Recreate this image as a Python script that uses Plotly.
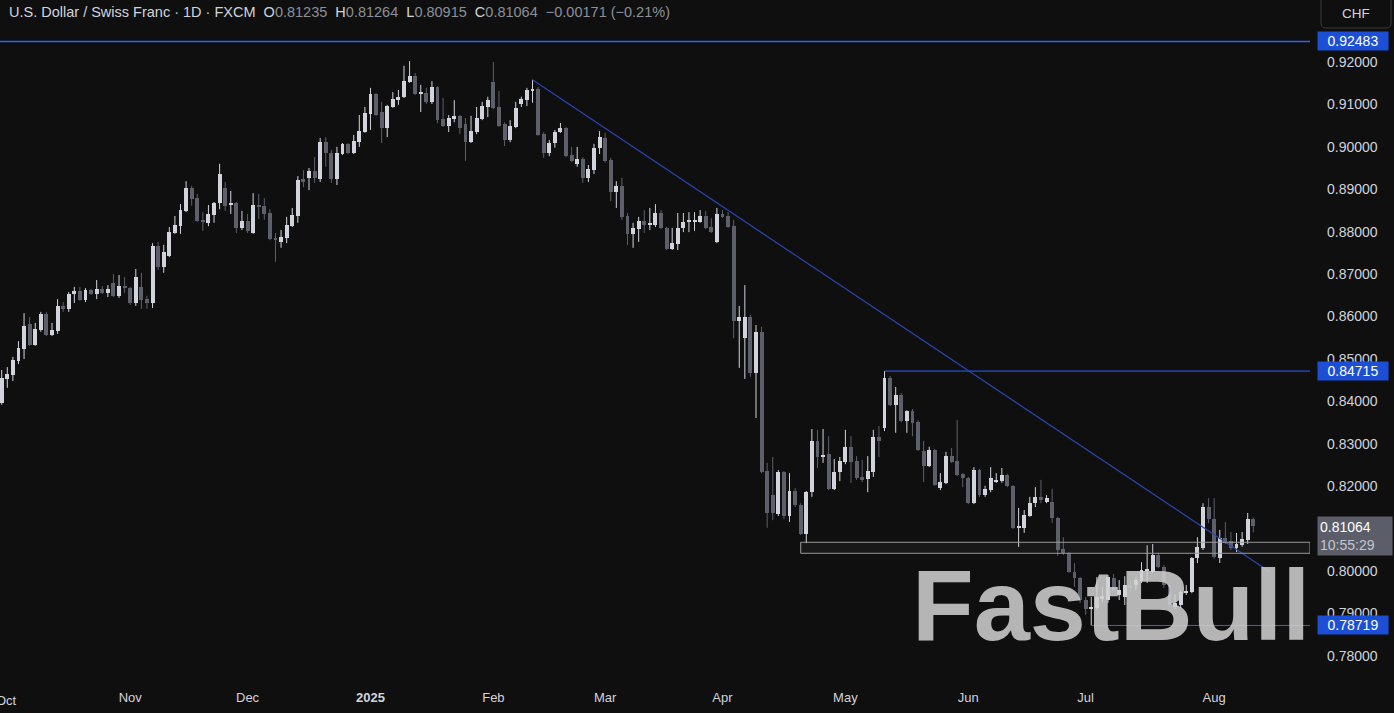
import plotly.graph_objects as go

# ---------------- data ----------------
month_ticks = [0, 23, 44, 66, 88, 108, 129, 151, 173, 194, 217]
month_labels = ["Oct", "Nov", "Dec", "<b>2025</b>", "Feb", "Mar", "Apr", "May", "Jun", "Jul", "Aug"]
price_ticks = [0.78, 0.79, 0.80, 0.82, 0.83, 0.84, 0.85, 0.86, 0.87, 0.88, 0.89, 0.90, 0.91, 0.92]

open_ = [
    .8396, .8453, .8462, .8495, .8524, .8582, .8533, .8568, .8606, .8557,
    .8566, .8625, .8618, .8653, .8660, .8639, .8663, .8653, .8665, .8656,
    .8679, .8649, .8672, .8667, .8632, .8670, .8641, .8632, .8766, .8717,
    .8743, .8797, .8813, .8849, .8903, .8879, .8828, .8821, .8839, .8868,
    .8903, .8863, .8868, .8809, .8825, .8797, .8863, .8861, .8844, .8785,
    .8776, .8785, .8813, .8837, .8924, .8927, .8943, .8924, .9011, .8985,
    .8924, .8983, .9007, .8985, .9011, .9035, .9077, .9125, .9082, .9044,
    .9094, .9110, .9118, .9153, .9167, .9125, .9127, .9106, .9141, .9066,
    .9049, .9066, .9073, .9054, .9011, .9035, .9066, .9094, .9153, .9094,
    .9054, .9016, .9047, .9101, .9110, .9132, .9136, .9030, .8985, .9009,
    .9035, .9044, .8981, .8960, .8971, .8927, .8945, .8997, .9021, .8969,
    .8894, .8908, .8837, .8795, .8806, .8825, .8816, .8816, .8844, .8809,
    .8759, .8771, .8809, .8823, .8824, .8823, .8837, .8811, .8776, .8842,
    .8837, .8813, .8590, .8549, .8599, .8467, .8564, .8236, .8179, .8135,
    .8234, .8130, .8189, .8156, .8088, .8186, .8307, .8269, .8276, .8194,
    .8234, .8257, .8293, .8260, .8222, .8217, .8234, .8316, .8337, .8455,
    .8391, .8415, .8354, .8377, .8351, .8283, .8248, .8285, .8196, .8208,
    .8271, .8260, .8229, .8219, .8161, .8238, .8179, .8191, .8212, .8212,
    .8227, .8201, .8102, .8102, .8130, .8160, .8175, .8163, .8163, .8125,
    .8052, .8043, .7998, .7984, .7932, .7911, .7913, .7934, .7932, .7984,
    .7944, .7939, .7967, .7967, .7977, .8000, .7998, .8038, .8010, .7967,
    .7915, .7920, .7948, .7951, .8031, .8055, .8151, .8123, .8031, .8078,
    .8071, .8055, .8062, .8073, .81235,
]
high = [
    .8474, .8481, .8505, .8542, .8608, .8599, .8585, .8611, .8611, .8585,
    .8641, .8634, .8658, .8670, .8670, .8667, .8665, .8686, .8672, .8674,
    .8700, .8698, .8693, .8670, .8712, .8703, .8649, .8773, .8776, .8769,
    .8811, .8837, .8865, .8919, .8908, .8889, .8846, .8863, .8870, .8960,
    .8917, .8896, .8870, .8849, .8842, .8891, .8889, .8879, .8853, .8797,
    .8804, .8835, .8856, .8931, .8945, .8950, .8976, .9021, .9023, .8993,
    .9000, .9009, .9009, .9028, .9075, .9094, .9139, .9127, .9106, .9099,
    .9129, .9134, .9191, .9202, .9174, .9146, .9139, .9155, .9143, .9115,
    .9075, .9110, .9075, .9068, .9073, .9094, .9106, .9118, .9200, .9132,
    .9058, .9063, .9106, .9118, .9139, .9158, .9141, .9035, .9016, .9040,
    .9056, .9047, .9000, .9000, .8976, .8957, .9007, .9037, .9033, .8974,
    .8919, .8927, .8844, .8821, .8835, .8851, .8856, .8865, .8851, .8811,
    .8809, .8844, .8844, .8846, .8846, .8851, .8849, .8832, .8856, .8851,
    .8846, .8828, .8625, .8674, .8604, .8580, .8576, .8255, .8269, .8238,
    .8236, .8231, .8196, .8160, .8189, .8335, .8333, .8335, .8318, .8264,
    .8269, .8333, .8318, .8271, .8262, .8271, .8333, .8342, .84715, .8460,
    .8434, .8420, .8379, .8382, .8356, .8307, .8293, .8288, .8231, .8281,
    .8290, .8356, .8231, .8222, .8245, .8241, .8201, .8245, .8231, .8243,
    .8229, .8203, .8149, .8144, .8175, .8198, .8215, .8179, .8194, .8128,
    .8080, .8045, .8019, .7986, .7939, .7939, .7986, .7963, .7991, .7993,
    .7979, .7988, .7979, .7986, .8021, .8061, .8064, .8043, .8014, .7972,
    .7946, .7955, .7967, .8033, .8080, .8160, .8172, .8172, .8097, .8116,
    .8092, .8090, .8092, .8137, .81264,
]
low = [
    .8392, .8432, .8448, .8488, .8500, .8531, .8531, .8564, .8554, .8554,
    .8559, .8611, .8611, .8632, .8637, .8634, .8651, .8641, .8653, .8646,
    .8646, .8644, .8656, .8627, .8625, .8618, .8618, .8620, .8710, .8703,
    .8740, .8795, .8795, .8846, .8861, .8823, .8802, .8813, .8821, .8853,
    .8849, .8842, .8797, .8804, .8797, .8795, .8830, .8828, .8780, .8729,
    .8762, .8773, .8811, .8821, .8905, .8898, .8915, .8917, .8953, .8915,
    .8910, .8981, .8983, .8983, .9000, .9033, .9040, .9073, .9009, .9023,
    .9092, .9099, .9115, .9151, .9122, .9082, .9101, .9101, .9056, .9047,
    .9035, .9058, .9030, .8967, .9009, .9030, .9063, .9070, .9089, .9047,
    .9002, .9011, .9044, .9094, .9096, .9104, .9026, .8974, .8978, .8998,
    .9033, .8976, .8964, .8953, .8915, .8917, .8936, .8983, .8964, .8872,
    .8856, .8828, .8769, .8762, .8776, .8797, .8804, .8811, .8806, .8757,
    .8757, .8757, .8799, .8799, .8802, .8821, .8806, .8797, .8773, .8832,
    .8809, .8549, .8479, .8453, .8458, .8361, .8231, .8102, .8120, .8130,
    .8123, .8116, .8151, .8085, .8066, .8175, .8243, .8255, .8191, .8191,
    .8212, .8252, .8208, .8215, .8210, .8186, .8222, .8269, .8330, .8389,
    .8326, .8351, .8326, .8318, .8283, .8210, .8245, .8201, .8191, .8205,
    .8255, .8224, .8198, .8158, .8158, .8175, .8175, .8186, .8208, .8208,
    .8198, .8099, .8057, .8090, .8128, .8151, .8160, .8160, .8113, .8036,
    .8038, .7996, .7963, .7925, .7897, .78719, .7908, .7927, .7925, .7951,
    .7932, .7920, .7951, .7955, .7972, .7972, .7996, .8007, .7960, .7915,
    .7911, .7913, .7944, .7948, .8019, .8050, .8113, .8029, .8019, .8064,
    .8050, .8045, .8057, .8064, .80915,
]
close = [
    .8455, .8465, .8498, .8526, .8578, .8533, .8571, .8606, .8557, .8568,
    .8625, .8618, .8653, .8660, .8639, .8663, .8653, .8665, .8656, .8665,
    .8649, .8672, .8667, .8632, .8693, .8639, .8632, .8766, .8717, .8752,
    .8799, .8816, .8851, .8903, .8877, .8825, .8823, .8842, .8868, .8936,
    .8861, .8868, .8809, .8825, .8802, .8863, .8858, .8842, .8783, .8780,
    .8788, .8816, .8839, .8922, .8917, .8943, .8927, .9011, .8985, .8924,
    .8985, .9007, .8985, .9014, .9037, .9080, .9125, .9075, .9044, .9096,
    .9113, .9118, .9155, .9167, .9125, .9127, .9106, .9141, .9063, .9049,
    .9068, .9073, .9044, .9011, .9037, .9068, .9096, .9110, .9092, .9049,
    .9016, .9049, .9092, .9113, .9134, .9136, .9028, .8985, .9009, .9035,
    .9044, .8978, .8967, .8971, .8927, .8948, .8997, .9023, .8967, .8894,
    .8908, .8835, .8795, .8809, .8825, .8816, .8818, .8844, .8809, .8759,
    .8773, .8809, .8823, .8825, .8826, .8837, .8809, .8799, .8842, .8835,
    .8811, .8590, .8599, .8599, .8467, .8564, .8234, .8137, .8137, .8234,
    .8130, .8189, .8156, .8088, .8186, .8307, .8269, .8271, .8194, .8234,
    .8260, .8293, .8257, .8219, .8215, .8236, .8316, .8307, .8455, .8391,
    .8415, .8354, .8377, .8349, .8285, .8248, .8285, .8203, .8210, .8271,
    .8257, .8227, .8219, .8161, .8238, .8179, .8194, .8219, .8215, .8227,
    .8201, .8102, .8104, .8132, .8160, .8175, .8168, .8172, .8125, .8050,
    .8043, .7998, .7984, .7932, .7911, .7915, .7939, .7941, .7986, .7955,
    .7955, .7967, .7960, .7979, .8003, .8005, .8038, .8010, .7967, .7920,
    .7925, .7951, .7953, .8031, .8057, .8151, .8123, .8033, .8078, .8066,
    .8055, .8064, .8076, .8123, .81064,
]

# drawn levels / annotations (price levels and anchor bars)
level_top = 0.92483
level_mid = 0.84715
level_mid_start = 158
level_low = 0.78719
level_low_start = 195
trend_x = [95, 227]
trend_y = [0.9158, 0.7998]
zone_start = 143
zone_top = 0.8068
zone_bottom = 0.8042
last_price = 0.81064
countdown = "10:55:29"

# ---------------- styling ----------------
BG = "#0f0f0f"
UP = "#d1d4dc"
DOWN = "#5d606b"
BLUE = "#2962ff"
TREND = "#2a46b0"
TXT = "#d1d4dc"
FONT = "Liberation Sans"
X_MIN, X_MAX = -0.304, 234.15
Y_MIN, Y_MAX = 0.77245, 0.93461

n = len(open_)
idx = list(range(n))

fig = go.Figure()

# wicks
for color, pick in ((UP, lambda o, c: c >= o), (DOWN, lambda o, c: c < o)):
    wx, wy = [], []
    for i in idx:
        if pick(open_[i], close[i]):
            wx += [i, i, None]
            wy += [low[i], high[i], None]
    fig.add_trace(go.Scatter(x=wx, y=wy, mode="lines",
                             line=dict(color=color, width=1),
                             hoverinfo="skip", showlegend=False))

# bodies
MIN_BODY = 0.00024
for color, pick in ((UP, lambda o, c: c >= o), (DOWN, lambda o, c: c < o)):
    bx, by, bb = [], [], []
    for i in idx:
        o, c = open_[i], close[i]
        if pick(o, c):
            bx.append(i)
            by.append(max(abs(c - o), MIN_BODY))
            bb.append(min(o, c))
    fig.add_trace(go.Bar(x=bx, y=by, base=bb, width=0.7,
                         marker=dict(color=color, line=dict(width=0)),
                         hoverinfo="skip", showlegend=False))

# level lines
fig.add_trace(go.Scatter(x=[X_MIN, X_MAX], y=[level_top, level_top], mode="lines",
                         line=dict(color=BLUE, width=1.4),
                         hoverinfo="skip", showlegend=False))
fig.add_trace(go.Scatter(x=[level_mid_start, X_MAX], y=[level_mid, level_mid], mode="lines",
                         line=dict(color=BLUE, width=1),
                         hoverinfo="skip", showlegend=False))
fig.add_trace(go.Scatter(x=[level_low_start, X_MAX], y=[level_low, level_low], mode="lines",
                         line=dict(color=BLUE, width=1),
                         hoverinfo="skip", showlegend=False))
fig.add_trace(go.Scatter(x=trend_x, y=trend_y, mode="lines",
                         line=dict(color=TREND, width=1.2),
                         hoverinfo="skip", showlegend=False))

shapes = []
# support zone box
shapes.append(dict(type="rect", xref="x", yref="y", x0=zone_start, x1=X_MAX,
                   y0=zone_bottom, y1=zone_top,
                   fillcolor="rgba(140,140,140,0.08)",
                   line=dict(color="#9a9a9a", width=1), layer="above"))
# CHF box (paper coords; plot is 1310x688 px), rounded corners
PW, PH = 1310.0, 688.0
bx0, bx1, by0, by1, r = 1321 / PW, 1391 / PW, 1 - 28 / PH, 1 + 4 / PH, 5
rx, ry = r / PW, r / PH
chf_path = (f"M {bx0},{by1} L {bx0},{by0 + ry} Q {bx0},{by0} {bx0 + rx},{by0} "
            f"L {bx1 - rx},{by0} Q {bx1},{by0} {bx1},{by0 + ry} L {bx1},{by1}")
shapes.append(dict(type="path", xref="paper", yref="paper", path=chf_path,
                   line=dict(color="#3a3a3a", width=1), fillcolor=BG))

annotations = []
GR = "#8c8f99"
header = (
    f"<span style='color:{TXT}'>U.S. Dollar / Swiss Franc · 1D · FXCM</span>"
    f"&nbsp;&nbsp;O<span style='color:{GR}'>{open_[-1]:.5f}</span>"
    f"&nbsp;&nbsp;H<span style='color:{GR}'>{high[-1]:.5f}</span>"
    f"&nbsp;&nbsp;L<span style='color:{GR}'>{low[-1]:.5f}</span>"
    f"&nbsp;&nbsp;C<span style='color:{GR}'>{close[-1]:.5f}</span>"
    f"&nbsp;&nbsp;<span style='color:{GR}'>−{open_[-1]-close[-1]:.5f} (−{(open_[-1]-close[-1])/close[-2]*100:.2f}%)</span>"
)
annotations.append(dict(xref="paper", yref="paper", x=0, y=1, xanchor="left",
                        yanchor="top", xshift=7, yshift=-2, text=header,
                        showarrow=False, font=dict(family=FONT, size=14.5, color=TXT)))
annotations.append(dict(xref="paper", yref="paper", x=(bx0 + bx1) / 2,
                        y=1 - 13 / PH, xanchor="center", yanchor="middle",
                        text="CHF", showarrow=False,
                        font=dict(family=FONT, size=13.5, color=TXT)))
# "Oct" label partly cut at the left edge, as in the reference
annotations.append(dict(xref="x", yref="paper", x=month_ticks[0], y=0,
                        xanchor="center", yanchor="top", yshift=-3, xshift=5,
                        text=month_labels[0], showarrow=False,
                        font=dict(family=FONT, size=13, color=TXT)))
# blue price labels
for lv in (level_top, level_mid, level_low):
    annotations.append(dict(xref="paper", yref="y", x=1, y=lv, xanchor="left",
                            yanchor="middle", xshift=7, text=f"{lv:.5f}",
                            showarrow=False, bgcolor="#1d4fd6", borderpad=2,
                            width=66, height=14,
                            font=dict(family=FONT, size=14, color="#ffffff")))
# last price + countdown
annotations.append(dict(xref="paper", yref="y", x=1, y=last_price, xanchor="left",
                        yanchor="top", xshift=7, yshift=10,
                        text=f"{last_price:.5f}<br><span style='color:#c3c6ce'>{countdown}</span>",
                        showarrow=False, bgcolor="#5b5e68", borderpad=2,
                        width=70, height=34, align="left",
                        font=dict(family=FONT, size=14, color="#ffffff")))
# watermark
annotations.append(dict(xref="paper", yref="paper", x=1312 / PW, y=1 - 605 / PH,
                        xanchor="right", yanchor="middle", text="<b>FastBull</b>",
                        showarrow=False,
                        font=dict(family=FONT, size=101, color="rgba(208,208,208,0.86)")))

fig.update_layout(
    width=1394, height=713,
    margin=dict(l=0, r=84, t=0, b=25),
    paper_bgcolor=BG, plot_bgcolor=BG,
    barmode="overlay", bargap=0, showlegend=False,
    hovermode=False,
    shapes=shapes, annotations=annotations,
    xaxis=dict(range=[X_MIN, X_MAX], tickmode="array", tickvals=month_ticks[1:],
               ticktext=month_labels[1:], showgrid=False, zeroline=False,
               showline=False, ticks="", fixedrange=True,
               tickfont=dict(family=FONT, size=13, color=TXT)),
    yaxis=dict(range=[Y_MIN, Y_MAX], side="right", tickmode="array",
               tickvals=price_ticks, ticktext=[f"{v:.5f}" for v in price_ticks],
               showgrid=False, zeroline=False, showline=False, ticks="",
               ticklabelstandoff=16, fixedrange=True,
               tickfont=dict(family=FONT, size=14, color=TXT)),
)

fig.write_html(
    "out.html",
    config={"displayModeBar": False},
    post_script="document.body.style.margin='0';document.body.style.background='#0f0f0f';",
)
